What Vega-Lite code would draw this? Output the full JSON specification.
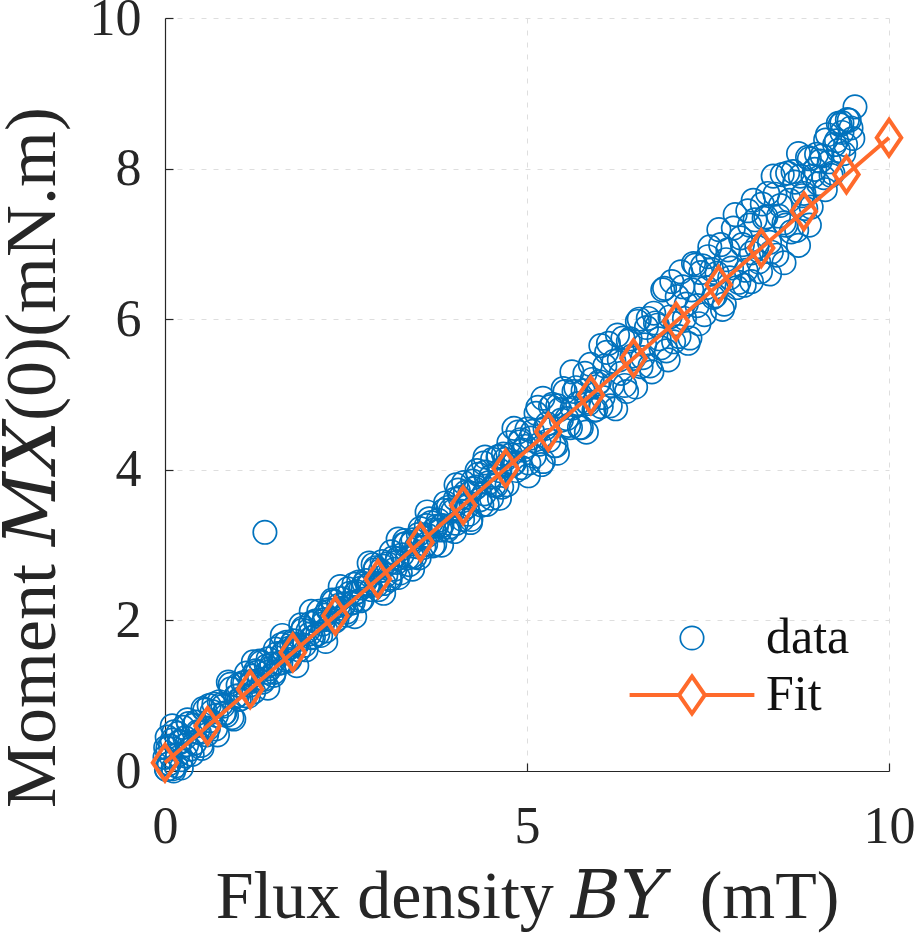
{
  "$schema": "https://vega.github.io/schema/vega-lite/v6.json",
  "width": 724,
  "height": 753,
  "autosize": {"type": "none"},
  "padding": {"left": 165, "top": 18, "right": 28, "bottom": 164},
  "background": "white",
  "config": {
    "view": {"stroke": null},
    "font": "Liberation Serif"
  },
  "datasets": {
    "measured": [
      {"x": 0.00, "y": 0.18}, {"x": 0.05, "y": 0.09}, {"x": 0.10, "y": 0.41}, {"x": 0.15, "y": 0.07}, {"x": 0.20, "y": 0.39},
      {"x": 0.25, "y": 0.58}, {"x": 0.30, "y": 0.35}, {"x": 0.35, "y": 0.29}, {"x": 0.40, "y": 0.61}, {"x": 0.45, "y": 0.52},
      {"x": 0.50, "y": 0.34}, {"x": 0.55, "y": 0.81}, {"x": 0.60, "y": 0.57}, {"x": 0.65, "y": 0.79}, {"x": 0.70, "y": 0.56},
      {"x": 0.75, "y": 0.92}, {"x": 0.80, "y": 0.86}, {"x": 0.85, "y": 0.74}, {"x": 0.90, "y": 1.15}, {"x": 0.95, "y": 0.69},
      {"x": 0.02, "y": 0.02}, {"x": 0.04, "y": 0.30}, {"x": 0.08, "y": 0.20}, {"x": 0.12, "y": 0.00}, {"x": 0.18, "y": 0.50},
      {"x": 0.03, "y": 0.45}, {"x": 0.22, "y": 0.15}, {"x": 0.10, "y": 0.60}, {"x": 0.28, "y": 0.20}, {"x": 0.06, "y": 0.10},
      {"x": 1.00, "y": 1.00}, {"x": 1.05, "y": 0.96}, {"x": 1.10, "y": 1.17}, {"x": 1.15, "y": 0.99}, {"x": 1.20, "y": 1.19},
      {"x": 1.25, "y": 1.33}, {"x": 1.30, "y": 1.20}, {"x": 1.35, "y": 1.18}, {"x": 1.40, "y": 1.39}, {"x": 1.45, "y": 1.36},
      {"x": 1.50, "y": 1.27}, {"x": 1.55, "y": 1.56}, {"x": 1.60, "y": 1.44}, {"x": 1.65, "y": 1.58}, {"x": 1.70, "y": 1.46},
      {"x": 1.75, "y": 1.69}, {"x": 1.80, "y": 1.67}, {"x": 1.85, "y": 1.61}, {"x": 1.90, "y": 1.87}, {"x": 1.95, "y": 1.61},
      {"x": 2.00, "y": 1.82}, {"x": 2.05, "y": 1.78}, {"x": 2.10, "y": 1.99}, {"x": 2.15, "y": 1.80}, {"x": 2.20, "y": 2.01},
      {"x": 2.25, "y": 2.14}, {"x": 2.30, "y": 2.01}, {"x": 2.35, "y": 1.99}, {"x": 2.40, "y": 2.20}, {"x": 2.45, "y": 2.16},
      {"x": 2.50, "y": 2.07}, {"x": 2.55, "y": 2.36}, {"x": 2.60, "y": 2.24}, {"x": 2.65, "y": 2.38}, {"x": 2.70, "y": 2.26},
      {"x": 2.75, "y": 2.49}, {"x": 2.80, "y": 2.47}, {"x": 2.85, "y": 2.41}, {"x": 2.90, "y": 2.67}, {"x": 2.95, "y": 2.41},
      {"x": 3.00, "y": 2.78}, {"x": 3.05, "y": 2.60}, {"x": 3.10, "y": 2.56}, {"x": 3.15, "y": 2.83}, {"x": 3.20, "y": 2.77},
      {"x": 3.25, "y": 2.63}, {"x": 3.30, "y": 3.01}, {"x": 3.35, "y": 2.83}, {"x": 3.40, "y": 3.02}, {"x": 3.45, "y": 2.84},
      {"x": 3.50, "y": 3.14}, {"x": 3.55, "y": 3.10}, {"x": 3.60, "y": 3.01}, {"x": 3.65, "y": 3.35}, {"x": 3.70, "y": 2.99},
      {"x": 3.75, "y": 3.25}, {"x": 3.80, "y": 3.20}, {"x": 3.85, "y": 3.46}, {"x": 3.90, "y": 3.20}, {"x": 3.95, "y": 3.47},
      {"x": 4.00, "y": 3.18}, {"x": 4.05, "y": 3.73}, {"x": 4.10, "y": 3.45}, {"x": 4.15, "y": 3.70}, {"x": 4.20, "y": 3.41},
      {"x": 4.25, "y": 3.85}, {"x": 4.30, "y": 3.77}, {"x": 4.35, "y": 3.60}, {"x": 4.40, "y": 4.09}, {"x": 4.45, "y": 3.54},
      {"x": 4.50, "y": 3.91}, {"x": 4.55, "y": 3.80}, {"x": 4.60, "y": 4.17}, {"x": 4.65, "y": 3.77}, {"x": 4.70, "y": 4.14},
      {"x": 4.75, "y": 4.36}, {"x": 4.80, "y": 4.07}, {"x": 4.85, "y": 3.99}, {"x": 4.90, "y": 4.37}, {"x": 4.95, "y": 4.26},
      {"x": 5.00, "y": 4.54}, {"x": 5.05, "y": 4.42}, {"x": 5.10, "y": 4.18}, {"x": 5.15, "y": 4.83}, {"x": 5.20, "y": 4.07},
      {"x": 5.25, "y": 4.55}, {"x": 5.30, "y": 4.39}, {"x": 5.35, "y": 4.87}, {"x": 5.40, "y": 4.32}, {"x": 5.45, "y": 4.80},
      {"x": 5.50, "y": 5.08}, {"x": 5.55, "y": 4.68}, {"x": 5.60, "y": 4.56}, {"x": 5.65, "y": 5.04}, {"x": 5.70, "y": 4.88},
      {"x": 5.75, "y": 4.56}, {"x": 5.80, "y": 5.28}, {"x": 5.85, "y": 4.88}, {"x": 5.90, "y": 5.20}, {"x": 5.95, "y": 4.80},
      {"x": 6.00, "y": 5.17}, {"x": 6.05, "y": 4.96}, {"x": 6.10, "y": 5.56}, {"x": 6.15, "y": 4.85}, {"x": 6.20, "y": 5.44},
      {"x": 6.25, "y": 5.79}, {"x": 6.30, "y": 5.28}, {"x": 6.35, "y": 5.12}, {"x": 6.40, "y": 5.71}, {"x": 6.45, "y": 5.51},
      {"x": 6.50, "y": 5.10}, {"x": 6.55, "y": 6.00}, {"x": 6.60, "y": 5.49}, {"x": 6.65, "y": 5.89}, {"x": 6.70, "y": 5.38},
      {"x": 6.75, "y": 6.08}, {"x": 6.80, "y": 5.92}, {"x": 6.85, "y": 5.62}, {"x": 6.90, "y": 6.41}, {"x": 6.95, "y": 5.46},
      {"x": 7.00, "y": 6.50}, {"x": 7.05, "y": 5.94}, {"x": 7.10, "y": 5.77}, {"x": 7.15, "y": 6.43}, {"x": 7.20, "y": 6.20},
      {"x": 7.25, "y": 5.75}, {"x": 7.30, "y": 6.74}, {"x": 7.35, "y": 6.18}, {"x": 7.40, "y": 6.62}, {"x": 7.45, "y": 6.06},
      {"x": 7.50, "y": 6.83}, {"x": 7.55, "y": 6.66}, {"x": 7.60, "y": 6.31}, {"x": 7.65, "y": 7.19}, {"x": 7.70, "y": 6.13},
      {"x": 7.75, "y": 6.79}, {"x": 7.80, "y": 6.55}, {"x": 7.85, "y": 7.21}, {"x": 7.90, "y": 6.42}, {"x": 7.95, "y": 7.08},
      {"x": 8.00, "y": 6.45}, {"x": 8.05, "y": 7.44}, {"x": 8.10, "y": 6.88}, {"x": 8.15, "y": 7.32}, {"x": 8.20, "y": 6.76},
      {"x": 8.25, "y": 7.53}, {"x": 8.30, "y": 7.36}, {"x": 8.35, "y": 7.02}, {"x": 8.40, "y": 7.90}, {"x": 8.45, "y": 6.85},
      {"x": 8.50, "y": 7.51}, {"x": 8.55, "y": 7.28}, {"x": 8.60, "y": 7.94}, {"x": 8.65, "y": 7.16}, {"x": 8.70, "y": 7.82},
      {"x": 8.75, "y": 8.20}, {"x": 8.80, "y": 7.64}, {"x": 8.85, "y": 7.47}, {"x": 8.90, "y": 8.13}, {"x": 8.95, "y": 7.90},
      {"x": 8.55, "y": 6.75}, {"x": 8.75, "y": 6.98}, {"x": 8.90, "y": 7.25}, {"x": 8.35, "y": 6.60}, {"x": 8.10, "y": 6.50},
      {"x": 9.00, "y": 8.19}, {"x": 9.05, "y": 8.10}, {"x": 9.10, "y": 7.88}, {"x": 9.15, "y": 8.45}, {"x": 9.20, "y": 7.91},
      {"x": 9.25, "y": 8.32}, {"x": 9.30, "y": 8.24}, {"x": 9.35, "y": 8.61}, {"x": 9.40, "y": 8.32}, {"x": 9.45, "y": 8.64},
      {"x": 9.50, "y": 8.40}, {"x": 9.53, "y": 8.82}, {"x": 9.12, "y": 7.72}, {"x": 9.35, "y": 8.48}, {"x": 9.30, "y": 8.60},
      {"x": 1.38, "y": 3.17},
      {"x": 0.025, "y": 0.02}, {"x": 0.075, "y": 0.33}, {"x": 0.125, "y": 0.52}, {"x": 0.175, "y": 0.21}, {"x": 0.225, "y": 0.04},
      {"x": 0.275, "y": 0.44}, {"x": 0.325, "y": 0.63}, {"x": 0.375, "y": 0.22}, {"x": 0.425, "y": 0.65}, {"x": 0.475, "y": 0.51},
      {"x": 0.525, "y": 0.83}, {"x": 0.575, "y": 0.48}, {"x": 0.625, "y": 0.67}, {"x": 0.675, "y": 0.89}, {"x": 0.725, "y": 0.48},
      {"x": 0.775, "y": 0.88}, {"x": 0.825, "y": 0.77}, {"x": 0.875, "y": 1.18}, {"x": 0.925, "y": 0.71}, {"x": 0.975, "y": 0.99},
      {"x": 1.025, "y": 0.95}, {"x": 1.075, "y": 1.17}, {"x": 1.125, "y": 1.30}, {"x": 1.175, "y": 1.14}, {"x": 1.225, "y": 1.05},
      {"x": 1.275, "y": 1.31}, {"x": 1.325, "y": 1.44}, {"x": 1.375, "y": 1.22}, {"x": 1.425, "y": 1.49}, {"x": 1.475, "y": 1.42},
      {"x": 1.525, "y": 1.62}, {"x": 1.575, "y": 1.43}, {"x": 1.625, "y": 1.56}, {"x": 1.675, "y": 1.71}, {"x": 1.725, "y": 1.48},
      {"x": 1.775, "y": 1.73}, {"x": 1.825, "y": 1.68}, {"x": 1.875, "y": 1.94}, {"x": 1.925, "y": 1.67}, {"x": 1.975, "y": 1.86},
      {"x": 2.025, "y": 1.77}, {"x": 2.075, "y": 1.99}, {"x": 2.125, "y": 2.12}, {"x": 2.175, "y": 1.95}, {"x": 2.225, "y": 1.86},
      {"x": 2.275, "y": 2.12}, {"x": 2.325, "y": 2.25}, {"x": 2.375, "y": 2.02}, {"x": 2.425, "y": 2.29}, {"x": 2.475, "y": 2.22},
      {"x": 2.525, "y": 2.42}, {"x": 2.575, "y": 2.23}, {"x": 2.625, "y": 2.36}, {"x": 2.675, "y": 2.51}, {"x": 2.725, "y": 2.28},
      {"x": 2.775, "y": 2.53}, {"x": 2.825, "y": 2.48}, {"x": 2.875, "y": 2.74}, {"x": 2.925, "y": 2.47}, {"x": 2.975, "y": 2.66},
      {"x": 3.025, "y": 2.49}, {"x": 3.075, "y": 2.75}, {"x": 3.125, "y": 2.91}, {"x": 3.175, "y": 2.68}, {"x": 3.225, "y": 2.57},
      {"x": 3.275, "y": 2.87}, {"x": 3.325, "y": 3.02}, {"x": 3.375, "y": 2.74}, {"x": 3.425, "y": 3.07}, {"x": 3.475, "y": 2.98},
      {"x": 3.525, "y": 3.22}, {"x": 3.575, "y": 2.97}, {"x": 3.625, "y": 3.13}, {"x": 3.675, "y": 3.30}, {"x": 3.725, "y": 3.01},
      {"x": 3.775, "y": 3.33}, {"x": 3.825, "y": 3.26}, {"x": 3.875, "y": 3.56}, {"x": 3.925, "y": 3.24}, {"x": 3.975, "y": 3.45},
      {"x": 4.025, "y": 3.29}, {"x": 4.075, "y": 3.63}, {"x": 4.125, "y": 3.83}, {"x": 4.175, "y": 3.51}, {"x": 4.225, "y": 3.34},
      {"x": 4.275, "y": 3.75}, {"x": 4.325, "y": 3.94}, {"x": 4.375, "y": 3.53}, {"x": 4.425, "y": 3.97}, {"x": 4.475, "y": 3.83},
      {"x": 4.525, "y": 4.14}, {"x": 4.575, "y": 3.79}, {"x": 4.625, "y": 3.99}, {"x": 4.675, "y": 4.21}, {"x": 4.725, "y": 3.80},
      {"x": 4.775, "y": 4.20}, {"x": 4.825, "y": 4.09}, {"x": 4.875, "y": 4.50}, {"x": 4.925, "y": 4.03}, {"x": 4.975, "y": 4.31},
      {"x": 5.025, "y": 4.09}, {"x": 5.075, "y": 4.51}, {"x": 5.125, "y": 4.75}, {"x": 5.175, "y": 4.34}, {"x": 5.225, "y": 4.11},
      {"x": 5.275, "y": 4.61}, {"x": 5.325, "y": 4.84}, {"x": 5.375, "y": 4.32}, {"x": 5.425, "y": 4.85}, {"x": 5.475, "y": 4.66},
      {"x": 5.525, "y": 5.04}, {"x": 5.575, "y": 4.59}, {"x": 5.625, "y": 4.82}, {"x": 5.675, "y": 5.09}, {"x": 5.725, "y": 4.56},
      {"x": 5.775, "y": 5.05}, {"x": 5.825, "y": 4.90}, {"x": 5.875, "y": 5.40}, {"x": 5.925, "y": 4.79}, {"x": 5.975, "y": 5.14},
      {"x": 6.025, "y": 4.84}, {"x": 6.075, "y": 5.38}, {"x": 6.125, "y": 5.68}, {"x": 6.175, "y": 5.12}, {"x": 6.225, "y": 4.81},
      {"x": 6.275, "y": 5.46}, {"x": 6.325, "y": 5.75}, {"x": 6.375, "y": 5.04}, {"x": 6.425, "y": 5.74}, {"x": 6.475, "y": 5.48},
      {"x": 6.525, "y": 5.97}, {"x": 6.575, "y": 5.37}, {"x": 6.625, "y": 5.66}, {"x": 6.675, "y": 6.01}, {"x": 6.725, "y": 5.30},
      {"x": 6.775, "y": 5.95}, {"x": 6.825, "y": 5.74}, {"x": 6.875, "y": 6.39}, {"x": 6.925, "y": 5.58}, {"x": 6.975, "y": 6.03},
      {"x": 7.025, "y": 5.70}, {"x": 7.075, "y": 6.30}, {"x": 7.125, "y": 6.63}, {"x": 7.175, "y": 6.01}, {"x": 7.225, "y": 5.68},
      {"x": 7.275, "y": 6.39}, {"x": 7.325, "y": 6.72}, {"x": 7.375, "y": 5.94}, {"x": 7.425, "y": 6.71}, {"x": 7.475, "y": 6.42},
      {"x": 7.525, "y": 6.96}, {"x": 7.575, "y": 6.29}, {"x": 7.625, "y": 6.61}, {"x": 7.675, "y": 6.99}, {"x": 7.725, "y": 6.20},
      {"x": 7.775, "y": 6.92}, {"x": 7.825, "y": 6.68}, {"x": 7.875, "y": 7.39}, {"x": 7.925, "y": 6.49}, {"x": 7.975, "y": 6.99},
      {"x": 8.025, "y": 6.65}, {"x": 8.075, "y": 7.25}, {"x": 8.125, "y": 7.58}, {"x": 8.175, "y": 6.96}, {"x": 8.225, "y": 6.63},
      {"x": 8.275, "y": 7.34}, {"x": 8.325, "y": 7.67}, {"x": 8.375, "y": 6.89}, {"x": 8.425, "y": 7.66}, {"x": 8.475, "y": 7.37},
      {"x": 8.525, "y": 7.92}, {"x": 8.575, "y": 7.25}, {"x": 8.625, "y": 7.58}, {"x": 8.675, "y": 7.96}, {"x": 8.725, "y": 7.18},
      {"x": 8.775, "y": 7.90}, {"x": 8.825, "y": 7.67}, {"x": 8.875, "y": 8.15}, {"x": 8.925, "y": 7.49}, {"x": 8.975, "y": 7.99},
      {"x": 9.025, "y": 7.80}, {"x": 9.075, "y": 8.17}, {"x": 9.125, "y": 8.38}, {"x": 9.175, "y": 8.09}, {"x": 9.225, "y": 7.94},
      {"x": 9.275, "y": 8.37}, {"x": 9.325, "y": 8.58}, {"x": 9.375, "y": 8.20}, {"x": 9.425, "y": 8.65}, {"x": 9.475, "y": 8.54},
      {"x": 0.01, "y": 0.31}, {"x": 0.11, "y": 0.03}, {"x": 0.21, "y": 0.38}, {"x": 0.31, "y": 0.68}, {"x": 0.41, "y": 0.37},
      {"x": 0.51, "y": 0.30}, {"x": 0.61, "y": 0.87}, {"x": 0.71, "y": 0.74}, {"x": 0.81, "y": 0.76}, {"x": 0.91, "y": 1.09},
      {"x": 1.01, "y": 1.14}, {"x": 1.11, "y": 1.00}, {"x": 1.21, "y": 1.26}, {"x": 1.31, "y": 1.46}, {"x": 1.41, "y": 1.31},
      {"x": 1.51, "y": 1.31}, {"x": 1.61, "y": 1.68}, {"x": 1.71, "y": 1.63}, {"x": 1.81, "y": 1.67}, {"x": 1.91, "y": 1.90},
      {"x": 2.01, "y": 1.96}, {"x": 2.11, "y": 1.82}, {"x": 2.21, "y": 2.07}, {"x": 2.31, "y": 2.27}, {"x": 2.41, "y": 2.12},
      {"x": 2.51, "y": 2.11}, {"x": 2.61, "y": 2.48}, {"x": 2.71, "y": 2.43}, {"x": 2.81, "y": 2.47}, {"x": 2.91, "y": 2.70},
      {"x": 3.01, "y": 2.72}, {"x": 3.11, "y": 2.54}, {"x": 3.21, "y": 2.82}, {"x": 3.31, "y": 3.06}, {"x": 3.41, "y": 2.85},
      {"x": 3.51, "y": 2.83}, {"x": 3.61, "y": 3.26}, {"x": 3.71, "y": 3.20}, {"x": 3.81, "y": 3.25}, {"x": 3.91, "y": 3.50},
      {"x": 4.01, "y": 3.61}, {"x": 4.11, "y": 3.34}, {"x": 4.21, "y": 3.69}, {"x": 4.31, "y": 3.99}, {"x": 4.41, "y": 3.68},
      {"x": 4.51, "y": 3.62}, {"x": 4.61, "y": 4.18}, {"x": 4.71, "y": 4.06}, {"x": 4.81, "y": 4.08}, {"x": 4.91, "y": 4.40},
      {"x": 1.22, "y": 1.45}, {"x": 1.62, "y": 1.80}, {"x": 2.02, "y": 2.12}, {"x": 2.42, "y": 2.45}, {"x": 2.82, "y": 2.76},
      {"x": 3.22, "y": 3.08}, {"x": 3.62, "y": 3.44}, {"x": 4.02, "y": 3.80}, {"x": 4.42, "y": 4.17}, {"x": 4.82, "y": 4.55},
      {"x": 5.22, "y": 4.95}, {"x": 5.62, "y": 5.30}, {"x": 6.02, "y": 5.65},
      {"x": 1.42, "y": 1.10}, {"x": 1.82, "y": 1.40}, {"x": 2.22, "y": 1.72}, {"x": 2.62, "y": 2.05}, {"x": 3.02, "y": 2.36},
      {"x": 3.42, "y": 2.68}, {"x": 3.82, "y": 3.00}, {"x": 4.22, "y": 3.30}, {"x": 4.62, "y": 3.62}, {"x": 5.02, "y": 3.92},
      {"x": 5.42, "y": 4.22}, {"x": 5.82, "y": 4.50}
    ],
    "fit": [
      {"x": 0.000, "y": 0.110}, {"x": 0.588, "y": 0.598}, {"x": 1.176, "y": 1.086}, {"x": 1.765, "y": 1.575},
      {"x": 2.353, "y": 2.063}, {"x": 2.941, "y": 2.551}, {"x": 3.529, "y": 3.039}, {"x": 4.118, "y": 3.528},
      {"x": 4.706, "y": 4.016}, {"x": 5.294, "y": 4.504}, {"x": 5.882, "y": 4.992}, {"x": 6.471, "y": 5.481},
      {"x": 7.059, "y": 5.969}, {"x": 7.647, "y": 6.457}, {"x": 8.235, "y": 6.945}, {"x": 8.824, "y": 7.434},
      {"x": 9.412, "y": 7.922}, {"x": 10.000, "y": 8.410}
    ]
  },
  "encoding": {
    "x": {
      "field": "x",
      "type": "quantitative",
      "scale": {"domain": [0, 10], "nice": false, "zero": false},
      "axis": {
        "title": "Flux density 𝐵𝑌\u00a0\u00a0(mT)",
        "values": [0, 5, 10],
        "format": "d",
        "grid": true,
        "gridColor": "#dedede",
        "gridDash": [5, 7],
        "gridWidth": 1,
        "domainColor": "#262626",
        "domainWidth": 1.2,
        "tickColor": "#262626",
        "tickSize": -8,
        "tickWidth": 1.2,
        "labelFont": "Liberation Serif",
        "labelFontSize": 52,
        "labelColor": "#262626",
        "labelPadding": 38,
        "labelFlush": false,
        "labelOverlap": false,
        "titleFont": "Liberation Serif, DejaVu Serif",
        "titleFontSize": 68,
        "titleFontWeight": "normal",
        "titleColor": "#262626",
        "titleX": 362,
        "titleY": 146,
        "titleBaseline": "alphabetic",
        "titleAlign": "center"
      }
    },
    "y": {
      "field": "y",
      "type": "quantitative",
      "scale": {"domain": [0, 10], "nice": false, "zero": false},
      "axis": {
        "title": "Moment 𝑀𝑋(0)(mN.m)",
        "values": [0, 2, 4, 6, 8, 10],
        "format": "d",
        "grid": true,
        "gridColor": "#dedede",
        "gridDash": [5, 7],
        "gridWidth": 1,
        "domainColor": "#262626",
        "domainWidth": 1.2,
        "tickColor": "#262626",
        "tickSize": -8,
        "tickWidth": 1.2,
        "labelFont": "Liberation Serif",
        "labelFontSize": 52,
        "labelColor": "#262626",
        "labelPadding": 32,
        "labelFlush": false,
        "labelOverlap": false,
        "titleFont": "Liberation Serif, DejaVu Serif",
        "titleFontSize": 72,
        "titleFontWeight": "normal",
        "titleColor": "#262626",
        "titleAngle": -90,
        "titleX": -111,
        "titleY": 439,
        "titleBaseline": "alphabetic",
        "titleAlign": "center"
      }
    }
  },
  "layer": [
    {
      "data": {"name": "measured"},
      "transform": [{"calculate": "'data'", "as": "series"}],
      "mark": {"type": "point", "filled": false, "size": 3600, "opacity": 1},
      "encoding": {
        "color": {
          "field": "series",
          "type": "nominal",
          "scale": {"domain": ["data", "Fit"], "range": ["#0072BD", "#FF6A2B"]},
          "legend": {
            "title": null,
            "orient": "none",
            "legendX": 495,
            "legendY": 589,
            "padding": 0,
            "symbolSize": 3600,
            "symbolFillColor": "transparent",
            "labelFont": "Liberation Serif",
            "labelFontSize": 50,
            "labelColor": "#111111",
            "labelOffset": 42,
            "rowPadding": 0
          }
        },
        "shape": {
          "field": "series",
          "type": "nominal",
          "scale": {
            "domain": ["data", "Fit"],
            "range": [
              "M0.39,0A0.39,0.39,0,1,1,-0.39,0A0.39,0.39,0,1,1,0.39,0Z",
              "M-2.08,0L-0.43,0M0.43,0L2.08,0M0,-0.62L0.43,0L0,0.62L-0.43,0Z"
            ]
          }
        },
        "strokeWidth": {
          "field": "series",
          "type": "nominal",
          "scale": {"domain": ["data", "Fit"], "range": [1.7, 4]}
        }
      }
    },
    {
      "data": {"name": "fit"},
      "mark": {"type": "line", "color": "#FF6A2B", "strokeWidth": 4},
      "encoding": {}
    },
    {
      "data": {"name": "fit"},
      "mark": {
        "type": "point",
        "filled": false,
        "shape": "M0,-1L0.68,0L0,1L-0.68,0Z",
        "size": 1300,
        "color": "#FF6A2B",
        "strokeWidth": 4,
        "opacity": 1
      },
      "encoding": {}
    }
  ]
}
